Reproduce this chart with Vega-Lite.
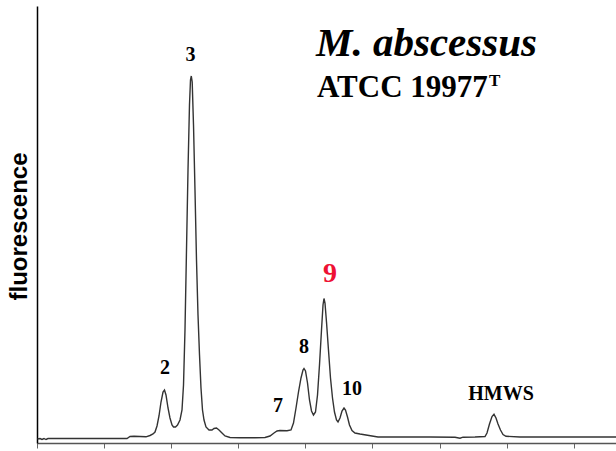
{
  "$schema": "https://vega.github.io/schema/vega-lite/v6.json",
  "width": 579,
  "height": 437,
  "autosize": {"type": "none"},
  "padding": {"left": 37, "top": 6, "right": 0, "bottom": 8},
  "background": "white",
  "config": {"view": {"stroke": null}},
  "layer": [
    {
      "data": {"values": [
        {"t":0.015,"f":4},{"t":0.089,"f":4.5},{"t":0.149,"f":3.5},{"t":0.209,"f":4.5},{"t":0.268,"f":3.5},{"t":0.328,"f":4.5},{"t":0.447,"f":4.5},{"t":1.282,"f":4.5},{"t":2.176,"f":4.5},{"t":2.683,"f":4.5},{"t":2.772,"f":6.5},{"t":2.891,"f":6.7},{"t":3.070,"f":6.5},{"t":3.249,"f":6.2},{"t":3.368,"f":7.5},{"t":3.458,"f":9},{"t":3.517,"f":11},{"t":3.577,"f":17},{"t":3.636,"f":27},{"t":3.696,"f":41},{"t":3.756,"f":51},{"t":3.800,"f":53},{"t":3.845,"f":48},{"t":3.905,"f":35},{"t":3.964,"f":25},{"t":4.024,"f":18},{"t":4.069,"f":16},{"t":4.128,"f":16},{"t":4.188,"f":18},{"t":4.262,"f":23},{"t":4.322,"f":33},{"t":4.367,"f":58},{"t":4.411,"f":113},{"t":4.456,"f":193},{"t":4.501,"f":273},{"t":4.545,"f":338},{"t":4.575,"f":363},{"t":4.599,"f":367},{"t":4.626,"f":361},{"t":4.665,"f":318},{"t":4.709,"f":253},{"t":4.754,"f":183},{"t":4.799,"f":128},{"t":4.844,"f":88},{"t":4.888,"f":55},{"t":4.933,"f":33},{"t":4.978,"f":23},{"t":5.037,"f":16},{"t":5.127,"f":13},{"t":5.216,"f":13},{"t":5.276,"f":14.5},{"t":5.350,"f":15},{"t":5.425,"f":13},{"t":5.514,"f":10},{"t":5.604,"f":7},{"t":5.753,"f":5.5},{"t":6.051,"f":5.2},{"t":6.498,"f":5.2},{"t":6.796,"f":5.5},{"t":6.945,"f":7},{"t":7.064,"f":10},{"t":7.154,"f":12},{"t":7.243,"f":12.5},{"t":7.452,"f":12.3},{"t":7.571,"f":13},{"t":7.645,"f":20},{"t":7.720,"f":35},{"t":7.794,"f":51},{"t":7.869,"f":65},{"t":7.928,"f":73},{"t":7.958,"f":74.5},{"t":8.003,"f":72},{"t":8.063,"f":60},{"t":8.122,"f":43},{"t":8.182,"f":32},{"t":8.241,"f":28},{"t":8.301,"f":31},{"t":8.361,"f":48},{"t":8.420,"f":78},{"t":8.480,"f":113},{"t":8.525,"f":138},{"t":8.554,"f":144.5},{"t":8.584,"f":140},{"t":8.629,"f":121},{"t":8.688,"f":93},{"t":8.748,"f":65},{"t":8.808,"f":45},{"t":8.867,"f":31},{"t":8.927,"f":23},{"t":8.972,"f":21},{"t":9.031,"f":25},{"t":9.091,"f":32},{"t":9.151,"f":35},{"t":9.195,"f":33},{"t":9.255,"f":26},{"t":9.314,"f":18},{"t":9.389,"f":12.5},{"t":9.478,"f":10},{"t":9.627,"f":9},{"t":9.806,"f":8},{"t":9.985,"f":7},{"t":10.164,"f":6},{"t":10.820,"f":6},{"t":11.714,"f":6},{"t":12.459,"f":5.8},{"t":12.608,"f":4.8},{"t":12.697,"f":5.8},{"t":13.055,"f":6},{"t":13.353,"f":6.5},{"t":13.413,"f":10},{"t":13.487,"f":19},{"t":13.562,"f":26.5},{"t":13.621,"f":28.7},{"t":13.681,"f":25},{"t":13.741,"f":19},{"t":13.815,"f":13},{"t":13.890,"f":8.5},{"t":13.979,"f":6.7},{"t":14.396,"f":6},{"t":15.589,"f":6},{"t":17.258,"f":6}
      ]},
      "mark": {"type": "line", "color": "#333333", "strokeWidth": 1.4, "clip": true},
      "encoding": {
        "x": {"field": "t", "type": "quantitative", "scale": {"domain": [0, 17.258], "nice": false, "zero": false},
          "axis": {"values": [0,1,2,3,4,5,6,7,8,9,10,11,12,13,14,15,16,17], "labels": false, "grid": false, "title": null, "domainColor": "#555555", "domainWidth": 1.5, "tickColor": "#666666", "tickSize": 5, "tickWidth": 1}},
        "y": {"field": "f", "type": "quantitative", "scale": {"domain": [0, 437], "nice": false},
          "axis": {"ticks": false, "labels": false, "grid": false, "domainColor": "#000000", "domainWidth": 1.5,
            "title": "fluorescence", "titleFont": "Liberation Sans", "titleFontSize": 24, "titleFontWeight": "bold", "titleColor": "#000000",
            "titleAngle": 270, "titleX": -18, "titleY": 220, "titleAlign": "center", "titleBaseline": "middle"}}
      }
    },
    {
      "data": {"values": [
        {"t":4.575,"f":382,"label":"3"},
        {"t":3.815,"f":69,"label":"2"},
        {"t":7.183,"f":31,"label":"7"},
        {"t":7.958,"f":90,"label":"8"},
        {"t":9.389,"f":48,"label":"10"},
        {"t":13.830,"f":43,"label":"HMWS"}
      ]},
      "mark": {"type": "text", "font": "Liberation Serif", "fontWeight": "bold", "fontSize": 20, "align": "center", "baseline": "alphabetic", "color": "#000000"},
      "encoding": {
        "x": {"field": "t", "type": "quantitative"},
        "y": {"field": "f", "type": "quantitative"},
        "text": {"field": "label"}
      }
    },
    {
      "data": {"values": [{"t":8.733,"f":161,"label":"9"}]},
      "mark": {"type": "text", "font": "Liberation Serif", "fontWeight": "bold", "fontSize": 28, "align": "center", "baseline": "alphabetic", "color": "#ee1133"},
      "encoding": {
        "x": {"field": "t", "type": "quantitative"},
        "y": {"field": "f", "type": "quantitative"},
        "text": {"field": "label"}
      }
    },
    {
      "data": {"values": [{"t":8.316,"f":387,"label":"M. abscessus"}]},
      "mark": {"type": "text", "font": "Liberation Serif", "fontWeight": "bold", "fontStyle": "italic", "fontSize": 41, "align": "left", "baseline": "alphabetic", "color": "#000000"},
      "encoding": {
        "x": {"field": "t", "type": "quantitative"},
        "y": {"field": "f", "type": "quantitative"},
        "text": {"field": "label"}
      }
    },
    {
      "data": {"values": [{"t":8.346,"f":346,"label":"ATCC 19977"}]},
      "mark": {"type": "text", "font": "Liberation Serif", "fontWeight": "bold", "fontSize": 31, "align": "left", "baseline": "alphabetic", "color": "#000000"},
      "encoding": {
        "x": {"field": "t", "type": "quantitative"},
        "y": {"field": "f", "type": "quantitative"},
        "text": {"field": "label"}
      }
    },
    {
      "data": {"values": [{"t":13.473,"f":357,"label":"T"}]},
      "mark": {"type": "text", "font": "Liberation Serif", "fontWeight": "bold", "fontSize": 17, "align": "left", "baseline": "alphabetic", "color": "#000000"},
      "encoding": {
        "x": {"field": "t", "type": "quantitative"},
        "y": {"field": "f", "type": "quantitative"},
        "text": {"field": "label"}
      }
    }
  ]
}
